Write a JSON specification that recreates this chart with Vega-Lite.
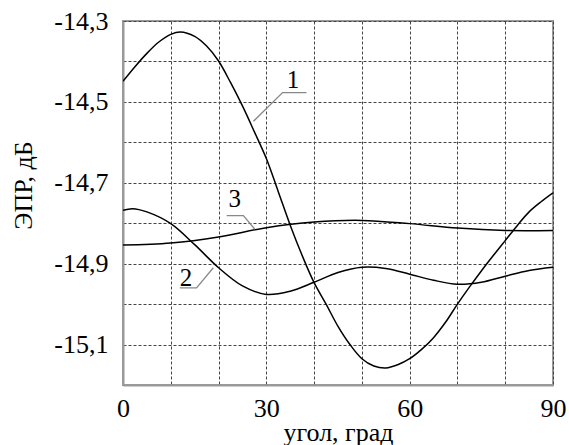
{
  "$schema": "https://vega.github.io/schema/vega-lite/v6.json",
  "width": 430,
  "height": 364,
  "autosize": {"type": "none"},
  "padding": {"left": 123, "top": 21, "right": 16, "bottom": 60},
  "background": "white",
  "config": {
    "font": "Liberation Serif",
    "view": {"stroke": "#999999", "strokeWidth": 2},
    "axis": {
      "labelFont": "Liberation Serif",
      "titleFont": "Liberation Serif",
      "labelFontSize": 26,
      "titleFontSize": 26,
      "labelColor": "black",
      "titleColor": "black",
      "titleFontWeight": "normal",
      "domainColor": "#999999",
      "domainWidth": 2,
      "tickSize": 0,
      "gridColor": "#444444",
      "gridDash": [3, 2],
      "gridWidth": 1,
      "gridOpacity": 1
    }
  },
  "datasets": {
    "curves": [
      {"s": "1", "x": 0, "y": -14.449},
      {"s": "1", "x": 2.5, "y": -14.413},
      {"s": "1", "x": 5, "y": -14.38},
      {"s": "1", "x": 7.5, "y": -14.352},
      {"s": "1", "x": 10, "y": -14.333},
      {"s": "1", "x": 12, "y": -14.327},
      {"s": "1", "x": 15, "y": -14.338},
      {"s": "1", "x": 17.5, "y": -14.362},
      {"s": "1", "x": 20, "y": -14.399},
      {"s": "1", "x": 22.5, "y": -14.452},
      {"s": "1", "x": 25, "y": -14.51},
      {"s": "1", "x": 27.5, "y": -14.574},
      {"s": "1", "x": 30, "y": -14.64},
      {"s": "1", "x": 32.5, "y": -14.722},
      {"s": "1", "x": 35, "y": -14.805},
      {"s": "1", "x": 37.5, "y": -14.88},
      {"s": "1", "x": 40, "y": -14.947},
      {"s": "1", "x": 42.5, "y": -15.0},
      {"s": "1", "x": 45, "y": -15.055},
      {"s": "1", "x": 47.5, "y": -15.1},
      {"s": "1", "x": 50, "y": -15.135},
      {"s": "1", "x": 52.5, "y": -15.153},
      {"s": "1", "x": 55, "y": -15.158},
      {"s": "1", "x": 57.5, "y": -15.15},
      {"s": "1", "x": 60, "y": -15.135},
      {"s": "1", "x": 62.5, "y": -15.112},
      {"s": "1", "x": 65, "y": -15.083},
      {"s": "1", "x": 67.5, "y": -15.045},
      {"s": "1", "x": 70, "y": -15.0},
      {"s": "1", "x": 72.5, "y": -14.958},
      {"s": "1", "x": 75, "y": -14.918},
      {"s": "1", "x": 77.5, "y": -14.88},
      {"s": "1", "x": 80, "y": -14.843},
      {"s": "1", "x": 82.5, "y": -14.806},
      {"s": "1", "x": 85, "y": -14.772},
      {"s": "1", "x": 87.5, "y": -14.747},
      {"s": "1", "x": 90, "y": -14.725},
      {"s": "2", "x": 0, "y": -14.768},
      {"s": "2", "x": 2, "y": -14.764},
      {"s": "2", "x": 5, "y": -14.772},
      {"s": "2", "x": 10, "y": -14.801},
      {"s": "2", "x": 15, "y": -14.853},
      {"s": "2", "x": 20, "y": -14.91},
      {"s": "2", "x": 25, "y": -14.955},
      {"s": "2", "x": 30, "y": -14.976},
      {"s": "2", "x": 35, "y": -14.968},
      {"s": "2", "x": 40, "y": -14.946},
      {"s": "2", "x": 45, "y": -14.922},
      {"s": "2", "x": 50, "y": -14.909},
      {"s": "2", "x": 55, "y": -14.912},
      {"s": "2", "x": 60, "y": -14.926},
      {"s": "2", "x": 65, "y": -14.941},
      {"s": "2", "x": 70, "y": -14.951},
      {"s": "2", "x": 75, "y": -14.946},
      {"s": "2", "x": 80, "y": -14.931},
      {"s": "2", "x": 85, "y": -14.917},
      {"s": "2", "x": 90, "y": -14.909},
      {"s": "3", "x": 0, "y": -14.854},
      {"s": "3", "x": 10, "y": -14.849},
      {"s": "3", "x": 20, "y": -14.834},
      {"s": "3", "x": 30, "y": -14.811},
      {"s": "3", "x": 40, "y": -14.797},
      {"s": "3", "x": 50, "y": -14.793},
      {"s": "3", "x": 60, "y": -14.801},
      {"s": "3", "x": 70, "y": -14.812},
      {"s": "3", "x": 80, "y": -14.818},
      {"s": "3", "x": 90, "y": -14.818}
    ],
    "leaders": [
      {"id": "1", "o": 1, "x": 27.3, "y": -14.548},
      {"id": "1", "o": 2, "x": 33.4, "y": -14.477},
      {"id": "1", "o": 3, "x": 38.4, "y": -14.477},
      {"id": "2", "o": 1, "x": 18.9, "y": -14.91},
      {"id": "2", "o": 2, "x": 15.4, "y": -14.96},
      {"id": "2", "o": 3, "x": 11.9, "y": -14.96},
      {"id": "3", "o": 1, "x": 27.6, "y": -14.815},
      {"id": "3", "o": 2, "x": 25.2, "y": -14.781},
      {"id": "3", "o": 3, "x": 21.7, "y": -14.781}
    ],
    "labels": [
      {"t": "1", "x": 35.6, "y": -14.465},
      {"t": "2", "x": 13.2, "y": -14.954},
      {"t": "3", "x": 23.4, "y": -14.759}
    ]
  },
  "layer": [
    {
      "data": {"name": "curves"},
      "mark": {"type": "line", "color": "black", "strokeWidth": 1.5, "interpolate": "catmull-rom", "clip": true},
      "encoding": {
        "x": {
          "field": "x", "type": "quantitative",
          "scale": {"domain": [0, 90], "nice": false, "zero": false},
          "axis": {
            "values": [0, 10, 20, 30, 40, 50, 60, 70, 80, 90],
            "labelExpr": "datum.value % 30 == 0 ? datum.label : ''",
            "labelPadding": 10,
            "labelFlush": false,
            "labelOverlap": false,
            "title": "угол, град",
            "titleY": 55,
            "titleBaseline": "alphabetic"
          }
        },
        "y": {
          "field": "y", "type": "quantitative",
          "scale": {"domain": [-15.2, -14.3], "nice": false, "zero": false},
          "axis": {
            "values": [-15.2, -15.1, -15.0, -14.9, -14.8, -14.7, -14.6, -14.5, -14.4, -14.3],
            "labelExpr": "abs(round(datum.value * 10)) % 2 == 1 ? '-' + replace(format(abs(datum.value), '.1f'), '.', ',') : ''",
            "labelPadding": 15,
            "labelOverlap": false,
            "labelFlush": false,
            "title": "ЭПР, дБ",
            "titleAngle": -90,
            "titleX": -100,
            "titleY": 164,
            "titleAlign": "center",
            "titleBaseline": "middle"
          }
        },
        "detail": {"field": "s"}
      }
    },
    {
      "data": {"name": "leaders"},
      "mark": {"type": "line", "color": "#888888", "strokeWidth": 1.3},
      "encoding": {
        "x": {"field": "x", "type": "quantitative"},
        "y": {"field": "y", "type": "quantitative"},
        "detail": {"field": "id"},
        "order": {"field": "o"}
      }
    },
    {
      "data": {"name": "labels"},
      "mark": {"type": "text", "font": "Liberation Serif", "fontSize": 25, "color": "black", "align": "center", "baseline": "alphabetic"},
      "encoding": {
        "x": {"field": "x", "type": "quantitative"},
        "y": {"field": "y", "type": "quantitative"},
        "text": {"field": "t"}
      }
    }
  ]
}
